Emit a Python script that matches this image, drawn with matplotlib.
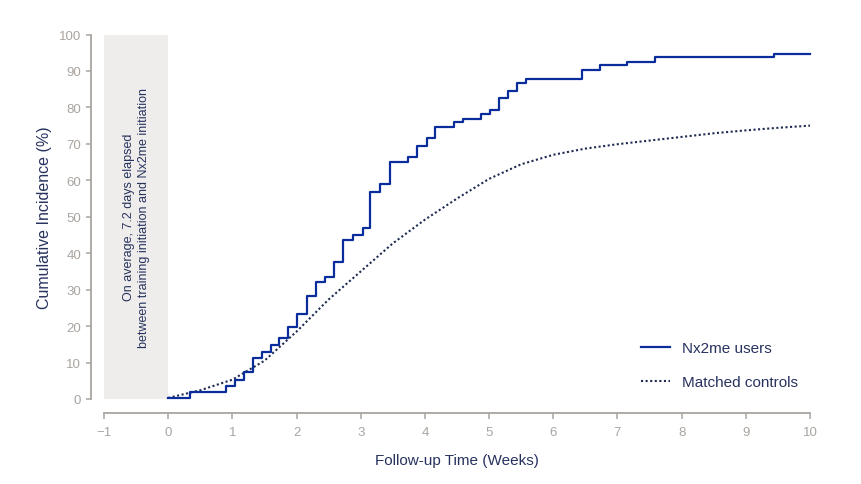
import matplotlib
matplotlib.use("Agg")
import matplotlib.pyplot as plt
from matplotlib.lines import Line2D

# ---- data ----
nx_weeks = [0, 0.34, 0.90, 1.04, 1.18, 1.32, 1.46, 1.60, 1.73, 1.87, 2.01, 2.16,
            2.30, 2.44, 2.58, 2.73, 2.88, 3.04, 3.15, 3.30, 3.46, 3.73, 3.88, 4.03,
            4.16, 4.45, 4.59, 4.87, 5.02, 5.16, 5.29, 5.43, 5.57, 6.44, 6.73, 7.15,
            7.58, 9.44, 10]
nx_incidence = [0.4, 2.0, 3.5, 5.3, 7.3, 11.3, 12.8, 14.9, 16.7, 19.7, 23.3, 28.2,
                32.2, 33.5, 37.5, 43.7, 44.9, 46.9, 56.8, 59.0, 65.0, 66.3, 69.4, 71.6,
                74.7, 75.9, 76.9, 78.1, 79.2, 82.5, 84.4, 86.6, 87.9, 90.2, 91.5, 92.4,
                93.7, 94.6, 94.6]

ctrl_weeks = [0, 0.5, 1.0, 1.5, 2.0, 2.5, 3.0, 3.5, 4.0, 4.5, 5.0, 5.5, 6.0, 6.5,
              7.0, 7.5, 8.0, 8.5, 9.0, 9.5, 10]
ctrl_incidence = [0.3, 2.4, 5.3, 10.5, 18.5, 27.3, 35.0, 42.7, 49.2, 55.0, 60.4, 64.4,
                  67.0, 68.7, 69.9, 70.9, 71.9, 72.9, 73.7, 74.4, 75.0]

series_labels = ["Nx2me users", "Matched controls"]
x_ticks = [-1, 0, 1, 2, 3, 4, 5, 6, 7, 8, 9, 10]
y_ticks = [0, 10, 20, 30, 40, 50, 60, 70, 80, 90, 100]
annotation = "On average, 7.2 days elapsed\nbetween training initiation and Nx2me initiation"

# ---- style ----
plt.rcParams['font.family'] = ['Liberation Sans', 'DejaVu Sans']
navy = "#27325e"
grey = "#a9a49f"
blue = "#0b2d9c"
dot = "#1e2a52"
DPI = 100

fig = plt.figure(figsize=(8.62, 4.85), dpi=DPI)
ax = fig.add_axes([104/862, 85/485, 706/862, 364.5/485])

ax.axvspan(-1, 0, ymin=0, ymax=1, color="#eeedeb", lw=0, zorder=0)
ax.text(-0.5, 50, annotation, rotation=90, ha="center", va="center",
        fontsize=9, color=navy, linespacing=1.35)

ax.step(nx_weeks, nx_incidence, where="post", color=blue, lw=1.6, zorder=3,
        clip_on=False)
ax.plot(ctrl_weeks, ctrl_incidence, color=dot, lw=1.5, linestyle=(0, (1, 1.2)),
        zorder=2, clip_on=False)

ax.set_xlim(-1, 10)
ax.set_ylim(0, 100)
ax.set_xticks(x_ticks)
ax.set_yticks(y_ticks)

for s in ["top", "right"]:
    ax.spines[s].set_visible(False)
ax.spines["left"].set_position(("outward", 12.5 * 72 / DPI))
ax.spines["bottom"].set_position(("outward", 14 * 72 / DPI))
for s in ["left", "bottom"]:
    ax.spines[s].set_color(grey)
    ax.spines[s].set_linewidth(1.3)

ax.tick_params(axis="x", direction="out", length=4.3, width=1.1, color=grey,
               labelcolor=grey, labelsize=9.5, pad=5)
ax.tick_params(axis="y", direction="out", length=3.6, width=1.1, color=grey,
               labelcolor=grey, labelsize=9.5, pad=4)

ax.set_xlabel("Follow-up Time (Weeks)", fontsize=11, color=navy, labelpad=11)
ax.set_ylabel("Cumulative Incidence (%)", fontsize=11.5, color=navy, labelpad=4.5)

handles = [Line2D([], [], color=blue, lw=1.6),
           Line2D([], [], color=dot, lw=1.5, linestyle=(0, (1, 1.2)))]
leg = ax.legend(handles, series_labels, loc="upper left",
                bbox_to_anchor=(641/862, 1 - 342/485), bbox_transform=fig.transFigure,
                frameon=False, fontsize=11, handlelength=1.9, handletextpad=0.8,
                labelspacing=1.3, borderpad=0, borderaxespad=0)
for t in leg.get_texts():
    t.set_color(navy)

fig.savefig("out.png", dpi=DPI)
